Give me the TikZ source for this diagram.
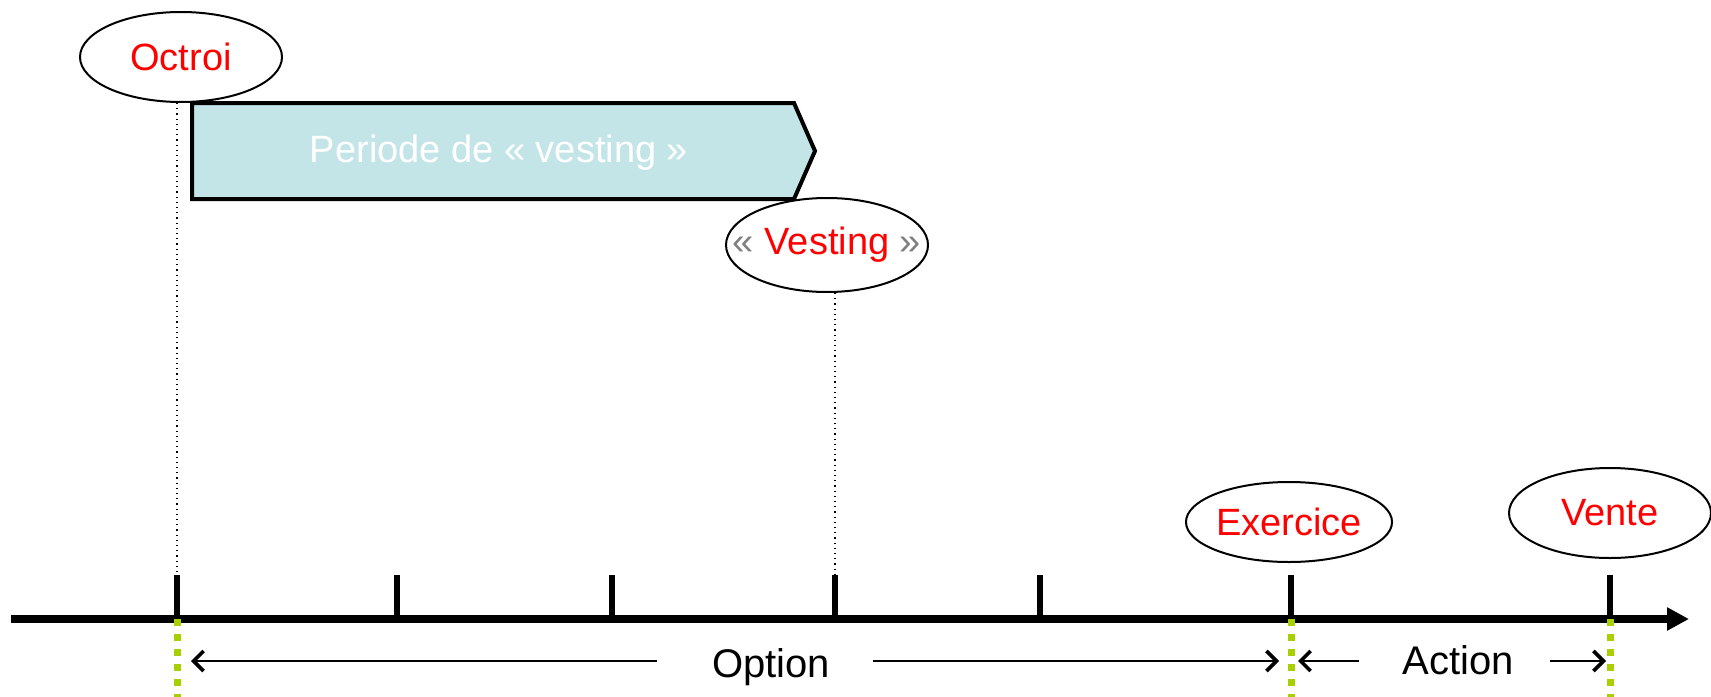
\documentclass[tikz,border=0pt]{standalone}
\usepackage{fontspec}
\setmainfont{Liberation Sans}
\usetikzlibrary{shapes.geometric}
\usetikzlibrary{arrows.meta}
\usetikzlibrary{positioning}
\definecolor{vestfill}{RGB}{196,229,232}
\definecolor{limegr}{RGB}{168,208,0}
\tikzset{evt/.style={ellipse,draw=black,line width=1pt,fill=white,inner sep=0pt,
minimum width=101pt, minimum height=45pt, text=red, font=\fontsize{19}{19}\selectfont},
lbl/.style={inner sep=0pt, font=\fontsize{20}{20}\selectfont},
vbox/.style={draw=black, fill=vestfill, line width=2pt},
axis/.style={line width=4pt, -{Triangle[length=11pt,width=11pt]}},
tick/.style={line width=2.7pt},
guide/.style={dotted, line width=0.6pt},
lime/.style={limegr, line width=3.5pt, dash pattern=on 3.5pt off 4pt},
dimarr/.style={line width=0.75pt, -{Straight Barb[length=5pt,width=10pt,line width=1.8pt]}}}

\begin{document}
\begin{tikzpicture}[x=0.5pt,y=-0.5pt]
  \useasboundingbox (0,0) rectangle (1711,696);
  % periode de vesting
  \draw [vbox] (192,103) -- (794,103) -- (815,151) -- (794,199) -- (192,199) -- cycle;
  \node (per) at (499,153) [lbl,text=white,font=\fontsize{19}{19}\selectfont] {Periode de « vesting »};
  % les evenements
  \node (octroi) at (181,57) [evt] {Octroi};
  \node (vest) at (827,245) [evt,minimum height=47pt]
    {\makebox[0pt]{\textcolor{gray}{«} Vesting \textcolor{gray}{»}}};
  \node (exer) at (1289,522) [evt,minimum height=40pt] {Exercice};
  \node (vente) at (1610,513) [evt] {Vente};
  % axe du temps
  \coordinate (a0) at (11,619);
  \coordinate (a1) at (1689,619);
  \foreach \x [count=\i] in {177,397,612,835,1040,1291,1610} {
    \coordinate (t\i) at (\x,619);
    \coordinate (h\i) at (\x,575);
    \draw [tick] (t\i) -- (h\i);
  }
  \draw [axis] (a0) -- (a1);
  \draw [guide] (octroi.south -| h1) -- (h1);
  \draw [guide] (vest.south -| h4) -- (h4);
  \foreach \i in {1,6,7}
    \draw [lime] (t\i) -- ++(0,80);
  % option / action
  \node (opt) at (771,667) [lbl] {Option};
  \node (act) at (1458,660) [lbl] {Action};
  \coordinate (o1) at (657,661);
  \coordinate (o2) at (191,661);
  \coordinate (o3) at (873,661);
  \coordinate (o4) at (1279,661);
  \coordinate (c1) at (1359,661);
  \coordinate (c2) at (1298,661);
  \coordinate (c3) at (1550,661);
  \coordinate (c4) at (1606,661);
  \draw [dimarr] (o1) -- (o2);
  \draw [dimarr] (o3) -- (o4);
  \draw [dimarr] (c1) -- (c2);
  \draw [dimarr] (c3) -- (c4);
\end{tikzpicture}
\end{document}
